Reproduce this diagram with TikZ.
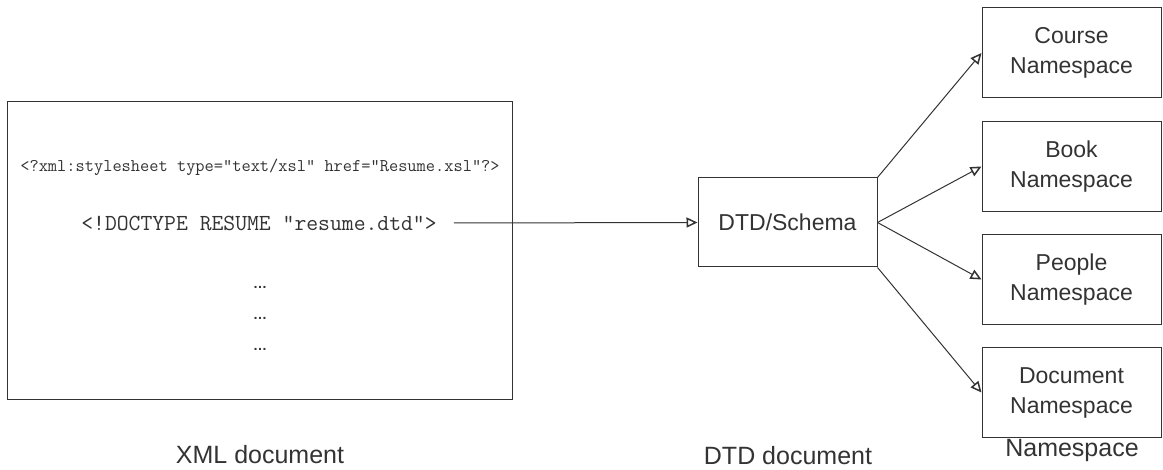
\documentclass[tikz,border=0pt]{standalone}
\usepackage{fontspec}
\setmainfont{Liberation Sans}
\usetikzlibrary{arrows.meta}

\begin{document}
\begin{tikzpicture}
  [x=1pt,y=-1pt,
   box/.style={draw=black!80,line width=1pt,inner sep=0pt,align=center,
     text=black!80,font=\fontsize{23}{30}\selectfont},
   nsbox/.style={box,minimum width=179pt,minimum height=90pt},
   code/.style={text=black!80,inner sep=0pt},
   lbl/.style={text=black!80,font=\fontsize{25}{30}\selectfont},
   arr/.style={draw=black!80,line width=1pt,-{Triangle[open,length=11pt,width=10pt,line width=1.5pt]}}]

  \useasboundingbox (0,0) rectangle (1163,470);

  % the XML document
  \node[box,minimum width=505pt,minimum height=298pt] (xml) at (259.5,251) {};
  \node[code,font=\fontsize{17.9}{20}\ttfamily] (style) at (260,167)
    {<?xml:stylesheet type="text/xsl" href="Resume.xsl"?>};
  \node[code,font=\fontsize{23}{26}\ttfamily] (doctype) at (259,223)
    {<!DOCTYPE RESUME "resume.dtd">};
  \foreach \y/\n in {287/1,318/2,349/3}
    \node[code,font=\fontsize{14}{16}\bfseries] (dots\n) at (260,\y) {\ldots};

  % DTD and the namespaces
  \node[box,minimum width=179pt,minimum height=89pt] (dtd) at (787.5,222.5) {DTD/Schema};
  \node[nsbox] (ns1) at (1071.5,53)    {Course\\Namespace};
  \node[nsbox] (ns2) at (1071.5,166.5) {Book\\Namespace};
  \node[nsbox] (ns3) at (1071.5,279.5) {People\\Namespace};
  \node[nsbox] (ns4) at (1071.5,392.5) {Document\\Namespace};

  \draw[arr] ([xshift=17pt]doctype.east) -- (dtd.west);
  \foreach \from/\to in {dtd.north east/ns1.west,dtd.east/ns2.west,
                         dtd.east/ns3.west,dtd.south east/ns4.west}
    \draw[arr] (\from) -- (\to);

  % captions
  \node[lbl] (xmllbl) at (260,455) {XML document};
  \node[lbl] (dtdlbl) at (788,456) {DTD document};
  \node[lbl] (nslbl) at (1072,450) {Namespace};

\end{tikzpicture}
\end{document}
